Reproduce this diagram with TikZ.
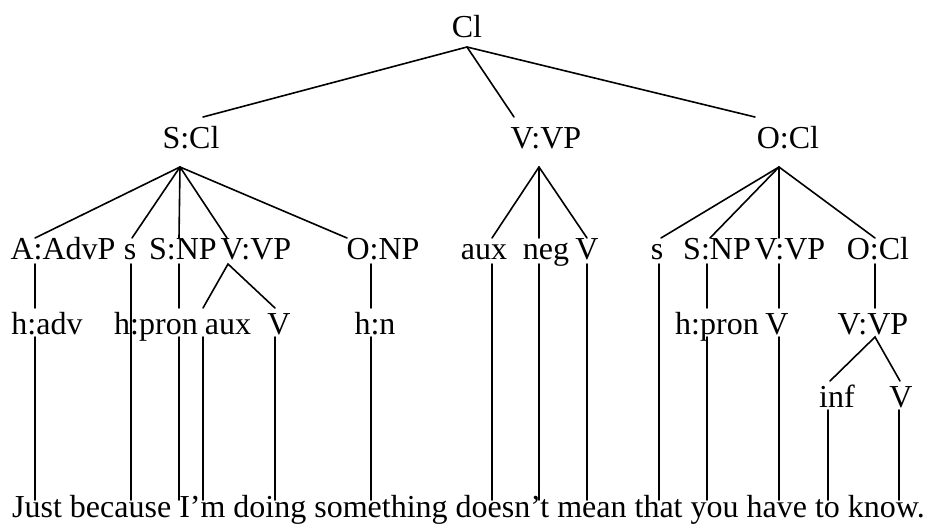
\documentclass[tikz,border=0pt]{standalone}
\usepackage{fontspec}
\setmainfont{Liberation Serif}
\begin{document}
\begin{tikzpicture}[x=1pt,y=-1pt,
  lbl/.style={inner sep=0pt, anchor=base, font=\fontsize{32}{38}\selectfont},
  br/.style={line width=1.6pt, line cap=round}]
\useasboundingbox (0,0) rectangle (926,523);
% labels
\node[lbl] (cl) at (467,37) {Cl};
\node[lbl] (scl) at (191,148) {S:Cl};
\node[lbl] (vvp) at (546,148) {V:VP};
\node[lbl] (ocl) at (788,148) {O:Cl};
% level 3
\node[lbl] (advp) at (63,259) {A:AdvP};
\node[lbl] (sa) at (130,259) {s};
\node[lbl] (snpa) at (183,259) {S:NP};
\node[lbl] (vvpa) at (256,259) {V:VP};
\node[lbl] (onp) at (383,259) {O:NP};
\node[lbl] (auxb) at (484,259) {aux};
\node[lbl] (negb) at (546,259) {neg};
\node[lbl] (vb) at (587,259) {V};
\node[lbl] (sc) at (657,259) {s};
\node[lbl] (snpc) at (717,259) {S:NP};
\node[lbl] (vvpc) at (790,259) {V:VP};
\node[lbl] (oclc) at (878,259) {O:Cl};
% level 4
\node[lbl] (hadv) at (47,334) {h:adv};
\node[lbl] (hprona) at (156,334) {h:pron};
\node[lbl] (auxa) at (228,334) {aux};
\node[lbl] (va) at (279,334) {V};
\node[lbl] (hn) at (375,334) {h:n};
\node[lbl] (hpronc) at (717,334) {h:pron};
\node[lbl] (vc) at (777,334) {V};
\node[lbl] (vvpd) at (873,334) {V:VP};
% level 5
\node[lbl] (inf) at (837,407) {inf};
\node[lbl] (vd) at (901,407) {V};
% sentence
\node[lbl, anchor=base west] (sent) at (12,517) {Just because I’m doing something doesn’t mean that you have to know.};

% coordinates
\coordinate (clB) at (467,47);
\coordinate (sclT) at (203,117);
\coordinate (vvpT) at (514,117);
\coordinate (oclT) at (755,117);
\coordinate (sclB) at (180,167);
\coordinate (vvpB) at (539,167);
\coordinate (oclB) at (779,167);
% level-3 tops
\coordinate (advpT) at (35,238);
\coordinate (saT) at (132,238);
\coordinate (snpaT) at (179,238);
\coordinate (vvpaT) at (227,238);
\coordinate (onpT) at (347,238);
\coordinate (auxbT) at (492,238);
\coordinate (negbT) at (539,238);
\coordinate (vbT) at (587,238);
\coordinate (scT) at (661,238);
\coordinate (snpcT) at (710,238);
\coordinate (vvpcT) at (779,238);
\coordinate (oclcT) at (875,238);
% level-3 bottoms / level-4 tops
\coordinate (advpB) at (35,264);
\coordinate (hadvT) at (35,308);
\coordinate (saB) at (131,264);
\coordinate (snpaB) at (179,264);
\coordinate (hpronaT) at (179,308);
\coordinate (vvpaB) at (228,264);
\coordinate (auxaT) at (203,308);
\coordinate (vaT) at (275,308);
\coordinate (onpB) at (371,264);
\coordinate (hnT) at (371,308);
\coordinate (auxbB) at (492,264);
\coordinate (negbB) at (539,264);
\coordinate (vbB) at (587,264);
\coordinate (scB) at (659,264);
\coordinate (snpcB) at (707,264);
\coordinate (hproncT) at (707,308);
\coordinate (vvpcB) at (779,264);
\coordinate (vcT) at (779,308);
\coordinate (oclcB) at (875,264);
\coordinate (vvpdT) at (875,308);
% level-4 bottoms
\coordinate (hadvB) at (35,337);
\coordinate (hpronaB) at (179,337);
\coordinate (auxaB) at (203,337);
\coordinate (vaB) at (275,337);
\coordinate (hnB) at (371,337);
\coordinate (hproncB) at (707,337);
\coordinate (vcB) at (779,337);
\coordinate (vvpdB) at (875,337);
\coordinate (infT) at (830,381);
\coordinate (vdT) at (900,381);
\coordinate (infB) at (828,410);
\coordinate (vdB) at (899,410);
% word ends
\coordinate (w1) at (35,500);
\coordinate (w2) at (131,500);
\coordinate (w3) at (179,500);
\coordinate (w4) at (203,500);
\coordinate (w5) at (275,500);
\coordinate (w6) at (371,500);
\coordinate (w7) at (492,500);
\coordinate (w8) at (539,500);
\coordinate (w9) at (587,500);
\coordinate (w10) at (659,500);
\coordinate (w11) at (707,500);
\coordinate (w12) at (779,500);
\coordinate (w13) at (828,500);
\coordinate (w14) at (899,500);

% branches
\draw[br] (sclT) -- (clB) -- (oclT);
\draw[br] (clB) -- (vvpT);
\foreach \t in {advpT,saT,snpaT,vvpaT,onpT} \draw[br] (sclB) -- (\t);
\foreach \t in {auxbT,negbT,vbT} \draw[br] (vvpB) -- (\t);
\foreach \t in {scT,snpcT,vvpcT,oclcT} \draw[br] (oclB) -- (\t);
\draw[br] (advpB) -- (hadvT);
\draw[br] (snpaB) -- (hpronaT);
\draw[br] (auxaT) -- (vvpaB) -- (vaT);
\draw[br] (onpB) -- (hnT);
\draw[br] (snpcB) -- (hproncT);
\draw[br] (vvpcB) -- (vcT);
\draw[br] (oclcB) -- (vvpdT);
\draw[br] (infT) -- (vvpdB) -- (vdT);
% to words
\draw[br] (hadvB) -- (w1);
\draw[br] (saB) -- (w2);
\draw[br] (hpronaB) -- (w3);
\draw[br] (auxaB) -- (w4);
\draw[br] (vaB) -- (w5);
\draw[br] (hnB) -- (w6);
\draw[br] (auxbB) -- (w7);
\draw[br] (negbB) -- (w8);
\draw[br] (vbB) -- (w9);
\draw[br] (scB) -- (w10);
\draw[br] (hproncB) -- (w11);
\draw[br] (vcB) -- (w12);
\draw[br] (infB) -- (w13);
\draw[br] (vdB) -- (w14);
\end{tikzpicture}
\end{document}
